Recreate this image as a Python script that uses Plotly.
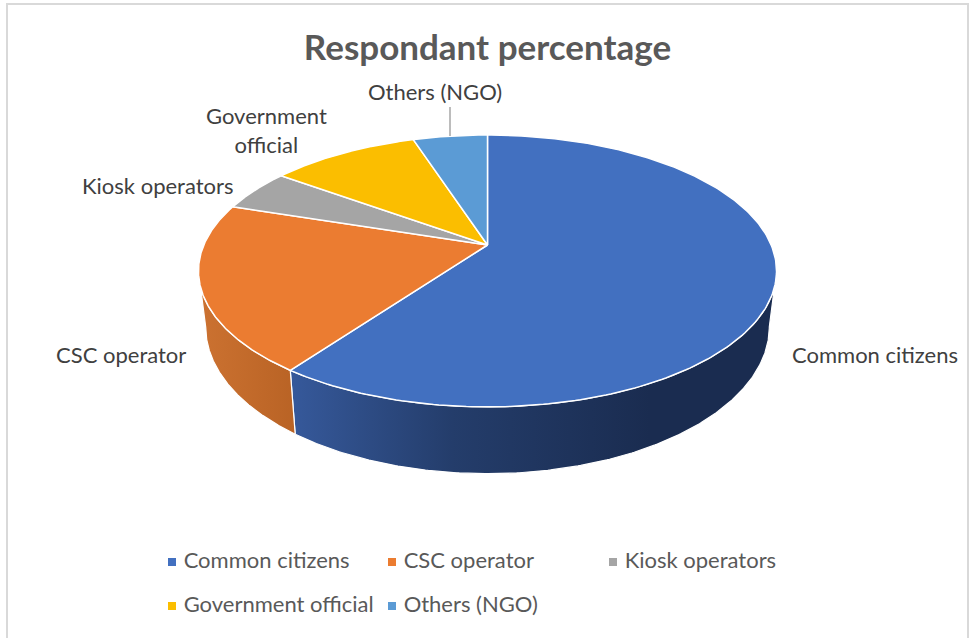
import numpy as np
import plotly.graph_objects as go

# Survey shares shown as a tilted pie
categories = ["Common citizens", "CSC operator", "Kiosk operators", "Government official", "Others (NGO)"]
shares = [60, 20, 5, 10, 5]
top_colors = ["#4270C0", "#EB7C31", "#A5A5A5", "#FBBE00", "#5B9BD5"]
wall_scales = [
    [[0, "#36599B"], [0.45, "#243D6B"], [1, "#1A2C50"]],
    [[0, "#CC7231"], [1, "#B96325"]],
    [[0, "#7C7C7C"], [1, "#7C7C7C"]],
    [[0, "#BF9000"], [1, "#BF9000"]],
    [[0, "#44749F"], [1, "#44749F"]],
]
label_text = ["Common citizens", "CSC operator", "Kiosk operators", "Government<br>official", "Others (NGO)"]
label_x = [875, 121, 157, 266, 435]
label_y = [354, 354, 185, 130, 91]
legend_x = [172, 392, 613, 172, 392]
legend_y = [562, 562, 562, 606, 606]

# Projection of the disc: pixel centre, radii, foreshortening and thickness
CX, CY = 487.5, 245.0
RX, RY = 283.7, 131.0
K = 0.191
THICK = 54.0
BOTTOM_SHRINK = 0.975


def rim(theta, lower=False):
    c, s = np.cos(theta), np.sin(theta)
    w = 1 + K * c
    x = RX * s / w
    y = CY - RY * c / w
    if lower:
        return CX + x * BOTTOM_SHRINK, y + THICK / w
    return CX + x, y


fig = go.Figure()
edges = 2 * np.pi * np.cumsum([0] + shares) / sum(shares)

# The wall is visible only between the two silhouette angles of the rim
side_limit = np.arccos(-K)
front_lo, front_hi = side_limit, 2 * np.pi - side_limit

for i, name in enumerate(categories):
    lo, hi = max(edges[i], front_lo), min(edges[i + 1], front_hi)
    if hi <= lo:
        continue
    t = np.linspace(lo, hi, 240)
    xt, yt = rim(t)
    xb, yb = rim(t[::-1], lower=True)
    left = float(min(xt.min(), xb.min()))
    fig.add_trace(go.Scatter(
        x=np.r_[xt, xb, xt[0]], y=np.r_[yt, yb, yt[0]], mode="lines", fill="toself",
        line=dict(color="#FFFFFF", width=1.2),
        fillgradient=dict(type="horizontal", colorscale=wall_scales[i],
                          start=left,
                          stop=left + 360 if i == 0 else float(max(xt.max(), xb.max()))),
        hoverinfo="skip", showlegend=False,
    ))

for i, name in enumerate(categories):
    t = np.linspace(edges[i], edges[i + 1], 240)
    xt, yt = rim(t)
    fig.add_trace(go.Scatter(
        x=np.r_[CX, xt, CX], y=np.r_[CY, yt, CY], mode="lines", fill="toself",
        fillcolor=top_colors[i], line=dict(color="#FFFFFF", width=1.5),
        name=name, hoverinfo="name", showlegend=False,
    ))

# Key beneath the pie
fig.add_trace(go.Scatter(
    x=legend_x, y=legend_y, mode="markers+text",
    marker=dict(symbol="square", size=8, color=top_colors),
    text=[" " + c for c in categories], textposition="middle right",
    textfont=dict(family="Lato", size=22, color="#595959"),
    hoverinfo="skip", showlegend=False,
))

# Slice labels
for txt, x, y in zip(label_text, label_x, label_y):
    fig.add_annotation(x=x, y=y, text=txt, showarrow=False, xref="x", yref="y",
                       font=dict(family="Lato", size=22, color="#404040"),
                       align="center")

fig.update_layout(
    width=969, height=638, autosize=False,
    margin=dict(l=0, r=0, t=0, b=0),
    paper_bgcolor="#FFFFFF", plot_bgcolor="#FFFFFF",
    showlegend=False,
    xaxis=dict(range=[0, 969], visible=False, fixedrange=True),
    yaxis=dict(range=[638, 0], visible=False, fixedrange=True),
    title=dict(text="<b>Respondant percentage</b>", x=487.5 / 969, xanchor="center",
               y=1 - 48 / 638, yanchor="middle",
               font=dict(family="Lato", size=35, color="#595959")),
    shapes=[
        dict(type="rect", xref="x", yref="y", x0=7, y0=4, x1=968, y1=700,
             line=dict(color="#D9D9D9", width=2), layer="below"),
        dict(type="line", xref="x", yref="y", x0=450, y0=107, x1=450, y1=136,
             line=dict(color="#A6A6A6", width=1.5)),
    ],
)

fig.write_html("out.html", config=dict(displayModeBar=False))
